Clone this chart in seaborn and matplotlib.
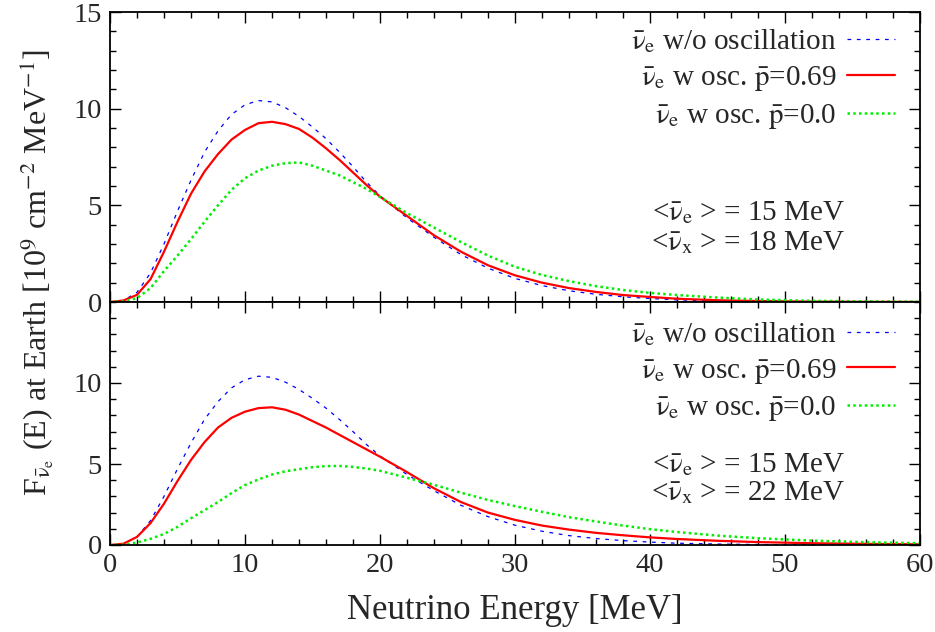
import numpy as np
import pandas as pd
import matplotlib
matplotlib.use("Agg")
import matplotlib.pyplot as plt
import seaborn as sns
from matplotlib.ticker import MultipleLocator

# ---------------- data ----------------
energy = [0, 1, 2, 3, 4, 5, 6, 7, 8, 9, 10, 11, 12, 13, 14, 15, 16, 17, 18, 19, 20,
          22, 24, 26, 28, 30, 32, 34, 36, 38, 40, 42, 45, 48, 52, 56, 60]

# no oscillation (same curve in both panels)
no_osc = [0, 0.08, 0.5, 1.5, 3.0, 4.7, 6.3, 7.75, 8.85, 9.7, 10.2, 10.42, 10.35, 10.05,
          9.6, 9.05, 8.45, 7.75, 7.0, 6.2, 5.5,
          4.35, 3.35, 2.45, 1.75, 1.22, 0.85, 0.58, 0.40, 0.27, 0.18, 0.11, 0.06, 0.03,
          0.01, 0.005, 0.0]

# top panel: <E_x> = 18 MeV
top_p069 = [0, 0.08, 0.37, 1.18, 2.6, 4.15, 5.6, 6.75, 7.65, 8.4, 8.9, 9.25, 9.32, 9.2,
            8.95, 8.5, 7.95, 7.35, 6.7, 6.05, 5.45,
            4.45, 3.45, 2.6, 1.9, 1.38, 1.0, 0.72, 0.52, 0.36, 0.26, 0.17, 0.09, 0.05,
            0.02, 0.01, 0.005]
top_p00 = [0, 0.03, 0.2, 0.72, 1.6, 2.4, 3.25, 4.15, 5.0, 5.8, 6.4, 6.8, 7.05, 7.18,
           7.22, 7.05, 6.8, 6.55, 6.2, 5.85, 5.43,
           4.6, 3.85, 3.1, 2.4, 1.82, 1.4, 1.08, 0.82, 0.62, 0.47, 0.36, 0.23, 0.13,
           0.06, 0.03, 0.015]

# bottom panel: <E_x> = 22 MeV
bot_p069 = [0, 0.08, 0.5, 1.35, 2.55, 3.95, 5.25, 6.35, 7.25, 7.85, 8.23, 8.45, 8.5, 8.35,
            8.05, 7.65, 7.25, 6.8, 6.35, 5.9, 5.45,
            4.5, 3.5, 2.65, 2.0, 1.55, 1.2, 0.95, 0.75, 0.6, 0.47, 0.37, 0.26, 0.18,
            0.11, 0.07, 0.04]
bot_p00 = [0, 0.02, 0.15, 0.38, 0.68, 1.12, 1.65, 2.15, 2.65, 3.2, 3.7, 4.05, 4.35, 4.55,
           4.68, 4.8, 4.87, 4.88, 4.82, 4.72, 4.58,
           4.15, 3.72, 3.23, 2.78, 2.4, 2.05, 1.72, 1.45, 1.2, 0.98, 0.8, 0.58, 0.42,
           0.27, 0.17, 0.11]

labels = [r"$\bar{\mathrm{\nu}}_\mathrm{e}$ w/o oscillation",
          r"$\bar{\mathrm{\nu}}_\mathrm{e}$ w osc. $\bar{\mathrm{p}}$=0.69",
          r"$\bar{\mathrm{\nu}}_\mathrm{e}$ w osc. $\bar{\mathrm{p}}$=0.0"]
mean_texts_top = [r"<$\bar{\mathrm{\nu}}_\mathrm{e}$ > = 15 MeV",
                  r"<$\bar{\mathrm{\nu}}_\mathrm{x}$ > = 18 MeV"]
mean_texts_bot = [r"<$\bar{\mathrm{\nu}}_\mathrm{e}$ > = 15 MeV",
                  r"<$\bar{\mathrm{\nu}}_\mathrm{x}$ > = 22 MeV"]

# ---------------- style ----------------
sns.set_style("white")
plt.rcParams["font.family"] = ["Liberation Serif", "DejaVu Serif"]
plt.rcParams["mathtext.fontset"] = "stix"

fig = plt.figure(figsize=(9.35, 6.32), dpi=100)
W, H = 935, 632
left, right = 110 / W, 920 / W
ax_top = fig.add_axes([left, 1 - 302 / H, right - left, 290 / H])
ax_bot = fig.add_axes([left, 1 - 545 / H, right - left, 243 / H])

styles = [dict(color="#0000ff", lw=0.9, linestyle=(0, (3.0, 4.5))),
          dict(color="#ff0000", lw=1.6, linestyle="-"),
          dict(color="#00ee00", lw=1.8, linestyle=(0, (1, 1.3)))]


def draw(ax, series, yticks, leg_y):
    for y, lab, st in zip(series, labels, styles):
        df = pd.DataFrame({"E": energy, "F": y})
        sns.lineplot(data=df, x="E", y="F", ax=ax, label=lab, **st)
    ax.set_xlim(0, 60)
    ax.set_ylim(0, 15)
    ax.xaxis.set_major_locator(MultipleLocator(10))
    ax.xaxis.set_minor_locator(MultipleLocator(2))
    ax.set_yticks(yticks)
    ax.yaxis.set_minor_locator(MultipleLocator(1))
    ax.tick_params(which="both", direction="in", top=True, right=True,
                   bottom=True, left=True, labelsize=20.5, width=1.0, color="black",
                   pad=6)
    ax.tick_params(which="major", length=8)
    ax.tick_params(which="minor", length=4)
    for s in ax.spines.values():
        s.set_color("black")
        s.set_linewidth(1.3)
    ax.set_xlabel("")
    ax.set_ylabel("")
    leg = ax.legend(loc="upper right", bbox_to_anchor=(0.976, leg_y), frameon=False,
                    markerfirst=False, fontsize=21, handlelength=1.65,
                    handletextpad=0.35, labelspacing=0.3, borderaxespad=0.0,
                    borderpad=0.2)
    for col in leg._legend_handle_box.get_children():
        col.align = "right"
    return leg


draw(ax_top, [no_osc, top_p069, top_p00], [0, 5, 10, 15], 0.967)
draw(ax_bot, [no_osc, bot_p069, bot_p00], [0, 5, 10], 0.95)
ax_top.tick_params(labelbottom=False)

for ax, texts, ys in [(ax_top, mean_texts_top, (0.307, 0.203)),
                      (ax_bot, mean_texts_bot, (0.329, 0.214))]:
    for t, yy in zip(texts, ys):
        ax.text(0.788, yy, t, transform=ax.transAxes,
                ha="center", va="center", fontsize=21)

ax_bot.set_xlabel("Neutrino Energy [MeV]", fontsize=25, labelpad=11)
fig.text(37 / W, 1 - 272 / H,
         r"F$_{\bar{\mathrm{\nu}}_\mathrm{e}}$ (E) at Earth [10$^{9}$ cm$^{-2}$ MeV$^{-1}$]",
         rotation=90, ha="center", va="center", fontsize=23)

fig.savefig("out.png", dpi=100)
